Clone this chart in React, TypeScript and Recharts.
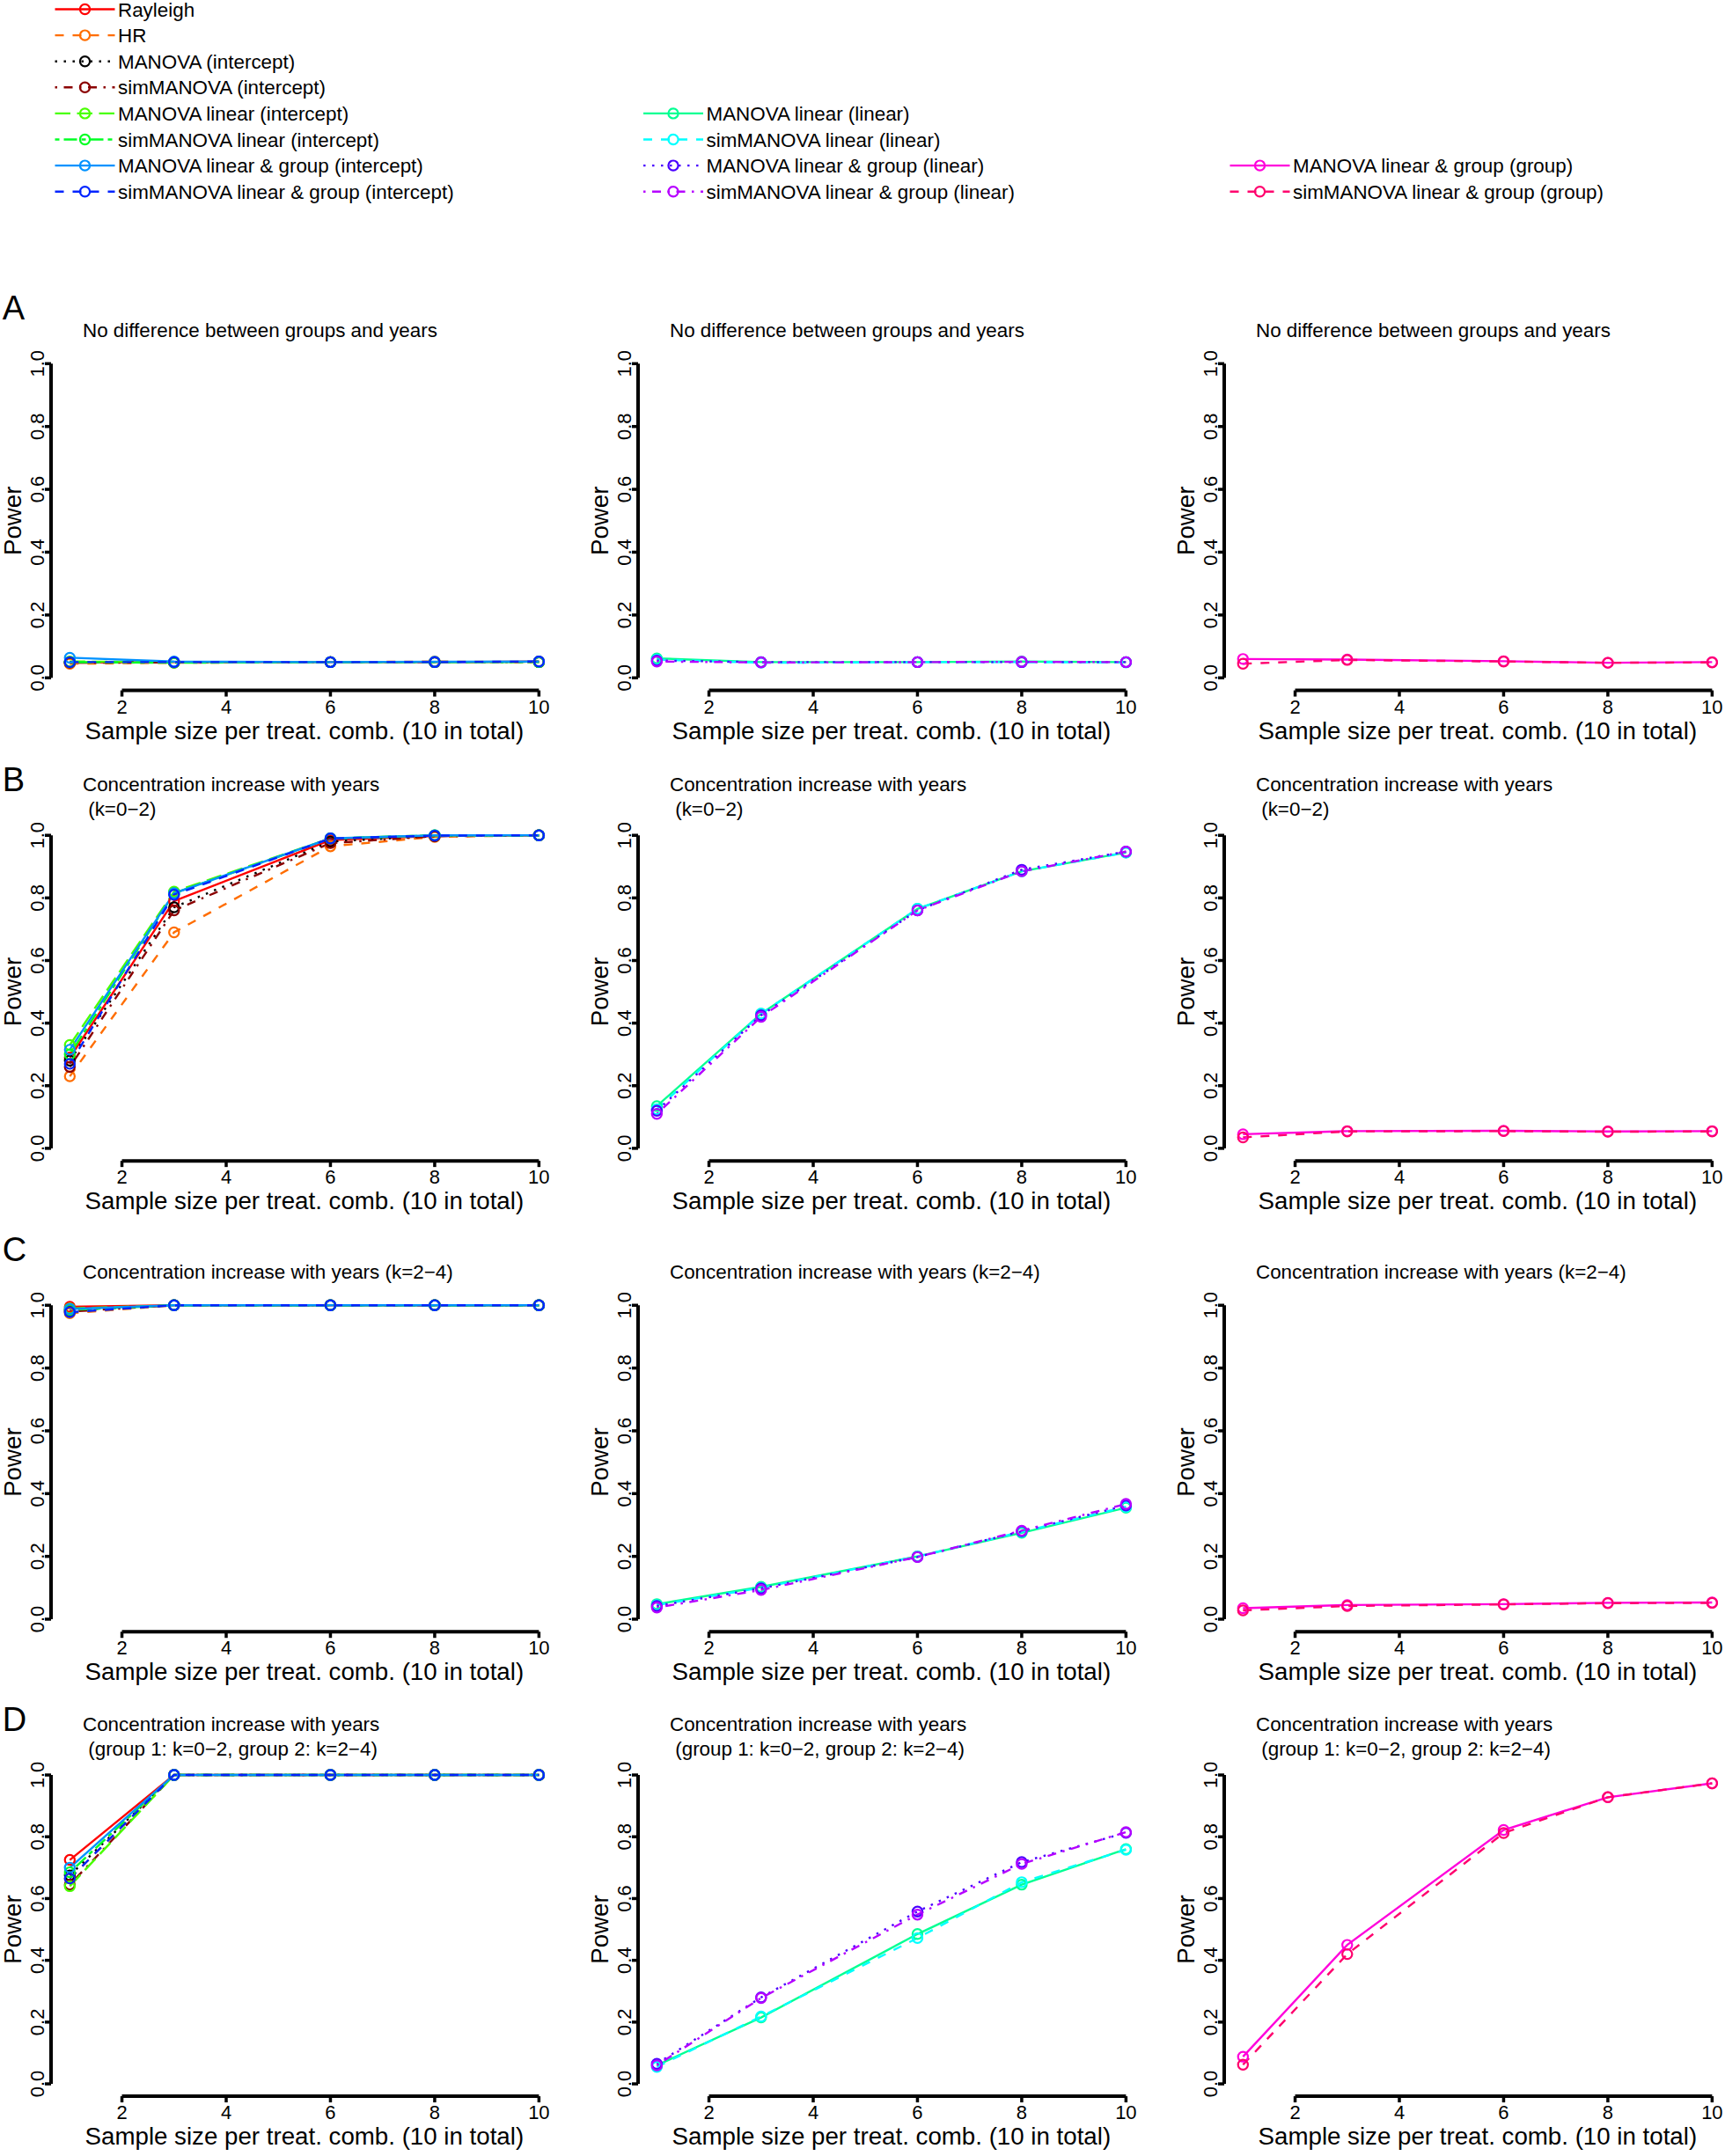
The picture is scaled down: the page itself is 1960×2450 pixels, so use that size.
import React from "react";
import { LineChart, Line, XAxis, YAxis, ReferenceLine } from "recharts";

const FONT = '"Liberation Sans", Arial, Helvetica, sans-serif';

const sampleSizes = [1, 3, 6, 8, 10];
const xTicks = [2, 4, 6, 8, 10];
const yTicks = [0, 0.2, 0.4, 0.6, 0.8, 1.0];

// series per column of panels
const interceptNames = [
  "Rayleigh",
  "HR",
  "MANOVA (intercept)",
  "simMANOVA (intercept)",
  "MANOVA linear (intercept)",
  "simMANOVA linear (intercept)",
  "MANOVA linear & group (intercept)",
  "simMANOVA linear & group (intercept)"
];
const linearNames = [
  "MANOVA linear (linear)",
  "simMANOVA linear (linear)",
  "MANOVA linear & group (linear)",
  "simMANOVA linear & group (linear)"
];
const groupNames = ["MANOVA linear & group (group)", "simMANOVA linear & group (group)"];

const interceptColors = ["#FF0000", "#FF6D00", "#000000", "#8B0000", "#49FF00", "#00FF24", "#0092FF", "#0024FF"];
const linearColors = ["#00FF92", "#00FFFF", "#4900FF", "#B600FF"];
const groupColors = ["#FF00DB", "#FF006D"];

// R lty 1..6 as svg dash patterns
const SOLID = "";
const DASHED = "10 10";
const DOTTED = "2.5 7.5";
const DOTDASH = "2.5 7.5 10 7.5";
const LONGDASH = "17.5 7.5";
const TWODASH = "5 5 15 5";
const interceptDashes = [SOLID, DASHED, DOTTED, DOTDASH, LONGDASH, TWODASH, SOLID, DASHED];
const linearDashes = [SOLID, DASHED, DOTTED, DOTDASH];
const groupDashes = [SOLID, DASHED];

// A: no difference
const aIntercept = [
  [0.048, 0.05, 0.05, 0.05, 0.052],
  [0.045, 0.048, 0.05, 0.052, 0.05],
  [0.05, 0.05, 0.05, 0.05, 0.051],
  [0.048, 0.049, 0.05, 0.05, 0.05],
  [0.052, 0.05, 0.05, 0.05, 0.051],
  [0.05, 0.048, 0.05, 0.05, 0.05],
  [0.064, 0.052, 0.05, 0.051, 0.052],
  [0.05, 0.05, 0.05, 0.05, 0.052]
];
const aLinear = [
  [0.062, 0.05, 0.05, 0.052, 0.05],
  [0.058, 0.048, 0.05, 0.05, 0.049],
  [0.055, 0.05, 0.05, 0.05, 0.05],
  [0.052, 0.049, 0.05, 0.051, 0.05]
];
const aGroup = [
  [0.06, 0.058, 0.053, 0.048, 0.05],
  [0.045, 0.057, 0.052, 0.048, 0.049]
];

// B: k=0-2
const bIntercept = [
  [0.29, 0.79, 0.985, 0.998, 1.0],
  [0.23, 0.69, 0.965, 0.995, 1.0],
  [0.28, 0.77, 0.98, 0.998, 1.0],
  [0.26, 0.76, 0.975, 0.997, 1.0],
  [0.33, 0.82, 0.99, 1.0, 1.0],
  [0.3, 0.815, 0.99, 1.0, 1.0],
  [0.315, 0.815, 0.99, 1.0, 1.0],
  [0.27, 0.81, 0.99, 0.999, 1.0]
];
const bLinear = [
  [0.135, 0.43, 0.765, 0.885, 0.945],
  [0.125, 0.43, 0.765, 0.885, 0.945],
  [0.12, 0.425, 0.76, 0.89, 0.948],
  [0.11, 0.42, 0.76, 0.885, 0.948]
];
const bGroup = [
  [0.045, 0.055, 0.056, 0.054, 0.055],
  [0.035, 0.054, 0.055, 0.053, 0.054]
];

// C: k=2-4
const cIntercept = [
  [0.995, 1, 1, 1, 1],
  [0.975, 1, 1, 1, 1],
  [0.985, 1, 1, 1, 1],
  [0.98, 1, 1, 1, 1],
  [0.99, 1, 1, 1, 1],
  [0.985, 1, 1, 1, 1],
  [0.988, 1, 1, 1, 1],
  [0.978, 1, 1, 1, 1]
];
const cLinear = [
  [0.048, 0.103, 0.2, 0.275, 0.355],
  [0.045, 0.1, 0.2, 0.278, 0.358],
  [0.042, 0.098, 0.198, 0.28, 0.362],
  [0.037, 0.093, 0.198, 0.282, 0.367]
];
const cGroup = [
  [0.035, 0.045, 0.048, 0.052, 0.053],
  [0.028, 0.042, 0.047, 0.051, 0.052]
];

// D: group 1 k=0-2, group 2 k=2-4
const dIntercept = [
  [0.725, 1, 1, 1, 1],
  [0.665, 1, 1, 1, 1],
  [0.675, 1, 1, 1, 1],
  [0.645, 1, 1, 1, 1],
  [0.64, 1, 1, 1, 1],
  [0.685, 1, 1, 1, 1],
  [0.7, 1, 1, 1, 1],
  [0.665, 1, 1, 1, 1]
];
const dLinear = [
  [0.06, 0.215, 0.485, 0.645, 0.76],
  [0.055, 0.218, 0.472, 0.653, 0.758],
  [0.065, 0.28, 0.558, 0.718, 0.813],
  [0.06, 0.278, 0.548, 0.712, 0.815]
];
const dGroup = [
  [0.088, 0.45, 0.822, 0.928, 0.973],
  [0.062, 0.42, 0.812, 0.928, 0.973]
];

const rowLetters = ["A", "B", "C", "D"];
const rowTitles = [
  ["No difference between groups and years"],
  ["Concentration increase with years", " (k=0\u22122)"],
  ["Concentration increase with years (k=2\u22124)"],
  ["Concentration increase with years", " (group 1: k=0\u22122, group 2: k=2\u22124)"]
];
const rowValues = [
  [aIntercept, aLinear, aGroup],
  [bIntercept, bLinear, bGroup],
  [cIntercept, cLinear, cGroup],
  [dIntercept, dLinear, dGroup]
];

// layout (page pixels)
const columnLefts = [58.3, 724.6, 1391];
const rowTops = [398.7, 935.1, 1469, 2002.7];
const rowUnits = [357, 355.7, 356.7, 351];
const PLOT_W = 575.7;
const AXIS_W = 70;
const AXIS_H = 40;
const PAD = 5;

const TICK_FS = 22;
const LAB_FS = 27.7;
const TITLE_FS = 22.4;

function YTick(props: any) {
  const { x, y, payload } = props;
  return (
    <text
      x={x}
      y={y}
      transform={`rotate(-90 ${x} ${y})`}
      textAnchor="middle"
      fill="#000"
      style={{ fontSize: `${TICK_FS}px`, fontFamily: FONT }}
    >
      {Number(payload.value).toFixed(1)}
    </text>
  );
}

function XTick(props: any) {
  const { x, y, payload } = props;
  return (
    <text
      x={x}
      y={y}
      dy="0.71em"
      textAnchor="middle"
      fill="#000"
      style={{ fontSize: `${TICK_FS}px`, fontFamily: FONT }}
    >
      {payload.value}
    </text>
  );
}

function Panel({
  row,
  col,
  values,
  colors,
  dashes
}: {
  row: number;
  col: number;
  values: number[][];
  colors: string[];
  dashes: string[];
}) {
  const plotH = rowUnits[row] * 1.08;
  const left = columnLefts[col] - AXIS_W;
  const top = rowTops[row] - PAD;
  const width = PLOT_W + AXIS_W + PAD;
  const height = plotH + PAD + AXIS_H;

  const data = sampleSizes.map((x, i) => {
    const r: Record<string, number> = { x };
    values.forEach((s, k) => {
      r[`s${k}`] = s[i];
    });
    return r;
  });

  const titles = rowTitles[row];
  const plotTop = PAD;
  const plotLeft = AXIS_W;

  return (
    <div style={{ position: "absolute", left, top, width, height }}>
      <LineChart width={width} height={height} data={data} margin={{ top: PAD, right: PAD, bottom: 0, left: 0 }}>
        <XAxis
          type="number"
          dataKey="x"
          domain={[0.64, 10.36]}
          ticks={xTicks}
          interval={0}
          height={AXIS_H}
          axisLine={false}
          stroke="#000"
          tickLine={{ stroke: "#000", strokeWidth: 3.5 }}
          tickSize={7}
          tickMargin={3.5}
          tick={<XTick />}
        />
        <YAxis
          type="number"
          domain={[-0.04, 1.04]}
          ticks={yTicks}
          interval={0}
          width={AXIS_W}
          axisLine={false}
          stroke="#000"
          tickLine={{ stroke: "#000", strokeWidth: 3.5 }}
          tickSize={7}
          tickMargin={1}
          tick={<YTick />}
        />
        <ReferenceLine
          segment={[
            { x: 2, y: -0.04 },
            { x: 10, y: -0.04 }
          ]}
          stroke="#000"
          strokeWidth={4}
          ifOverflow="visible"
        />
        <ReferenceLine
          segment={[
            { x: 0.64, y: 0 },
            { x: 0.64, y: 1 }
          ]}
          stroke="#000"
          strokeWidth={4}
          ifOverflow="visible"
        />
        {values.map((_, k) => (
          <Line
            key={k}
            type="linear"
            dataKey={`s${k}`}
            stroke={colors[k]}
            strokeWidth={2.4}
            strokeDasharray={dashes[k] || undefined}
            isAnimationActive={false}
            dot={(p: any) => (
              <circle
                key={`d${k}-${p.index}`}
                cx={p.cx}
                cy={p.cy}
                r={5.6}
                fill="none"
                stroke={colors[k]}
                strokeWidth={2.2}
              />
            )}
            activeDot={false}
          />
        ))}
      </LineChart>
      <svg
        width={width}
        height={height}
        style={{ position: "absolute", left: 0, top: 0, overflow: "visible", pointerEvents: "none" }}
      >
        {col === 0 && (
          <text x={3 - left} y={plotTop - 36} fontSize={38} fontFamily={FONT} fill="#000">
            {rowLetters[row]}
          </text>
        )}
        {titles.length === 1 ? (
          <text x={plotLeft + 36} y={plotTop - 16.3} fontSize={TITLE_FS} fontFamily={FONT} fill="#000">
            {titles[0]}
          </text>
        ) : (
          titles.map((t, i) => (
            <text
              key={i}
              x={plotLeft + 36}
              y={plotTop - 36.2 + i * 28.5}
              fontSize={TITLE_FS}
              fontFamily={FONT}
              fill="#000"
              style={{ whiteSpace: "pre" }}
            >
              {t}
            </text>
          ))
        )}
        <text
          x={plotLeft + PLOT_W / 2}
          y={plotTop + plotH + 55}
          textAnchor="middle"
          fontSize={LAB_FS}
          fontFamily={FONT}
          fill="#000"
        >
          Sample size per treat. comb. (10 in total)
        </text>
        <text
          x={plotLeft - 34}
          y={plotTop + plotH / 2}
          transform={`rotate(-90 ${plotLeft - 34} ${plotTop + plotH / 2})`}
          textAnchor="middle"
          fontSize={LAB_FS}
          fontFamily={FONT}
          fill="#000"
        >
          Power
        </text>
      </svg>
    </div>
  );
}

const legendColumnX = [62.5, 731, 1397.5];

function Legend() {
  const entries = [
    ...interceptNames.map((n, i) => ({ n, c: interceptColors[i], d: interceptDashes[i], col: 0, row: i })),
    ...linearNames.map((n, i) => ({ n, c: linearColors[i], d: linearDashes[i], col: 1, row: i + 4 })),
    ...groupNames.map((n, i) => ({ n, c: groupColors[i], d: groupDashes[i], col: 2, row: i + 6 }))
  ];
  return (
    <svg width={1960} height={240} style={{ position: "absolute", left: 0, top: 0 }}>
      {entries.map((e) => {
        const x0 = legendColumnX[e.col];
        const y = 10.5 + e.row * 29.6;
        return (
          <g key={e.n}>
            <line x1={x0} x2={x0 + 68} y1={y} y2={y} stroke={e.c} strokeWidth={2.4} strokeDasharray={e.d || undefined} />
            <circle cx={x0 + 34} cy={y} r={5.6} fill="none" stroke={e.c} strokeWidth={2.2} />
            <text x={x0 + 71.5} y={y + 8} fontSize={TITLE_FS} fontFamily={FONT} fill="#000">
              {e.n}
            </text>
          </g>
        );
      })}
    </svg>
  );
}

export default function App() {
  const colors = [interceptColors, linearColors, groupColors];
  const dashes = [interceptDashes, linearDashes, groupDashes];
  return (
    <div
      style={{
        position: "absolute",
        left: 0,
        top: 0,
        width: 1960,
        height: 2450,
        overflow: "hidden",
        background: "#fff",
        fontFamily: FONT
      }}
    >
      <Legend />
      {rowValues.map((cols, r) =>
        cols.map((vals, c) => (
          <Panel key={`${r}-${c}`} row={r} col={c} values={vals} colors={colors[c]} dashes={dashes[c]} />
        ))
      )}
    </div>
  );
}
